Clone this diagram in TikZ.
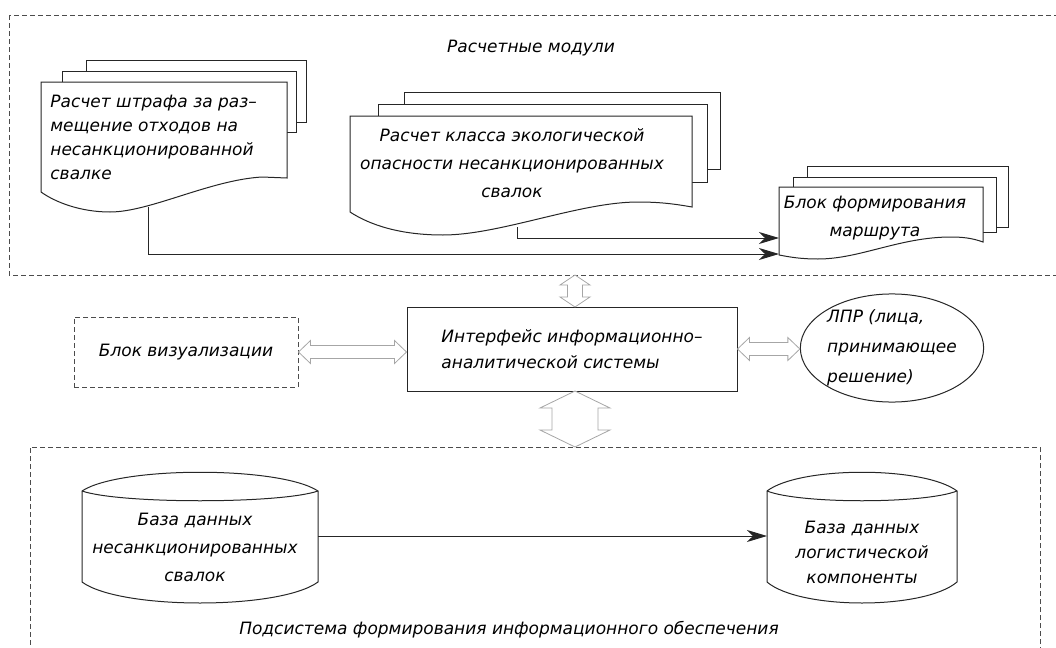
\documentclass[tikz,border=0pt]{standalone}
\usepackage{fontspec}
\setmainfont{DejaVu Sans}
\usetikzlibrary{arrows.meta,shapes.geometric,calc}

\tikzset{
  line/.style={draw=black!85, line width=0.5pt},
  page/.style={line, fill=white},
  dashbox/.style={draw=black!70, line width=0.5pt, dash pattern=on 2.5pt off 1.5pt},
  flow/.style={black!85, line width=0.5pt, -{Stealth[length=10pt,width=6pt,inset=3pt]}},
  txt/.style={font=\fontsize{8.5}{12}\selectfont\itshape, inner sep=0pt},
  hollow/.style={draw=black!35, fill=white, line width=0.4pt},
}
% hollow double arrow, horizontal: from, to, shaft half, head half, head length
\newcommand{\hollowh}[5]{%
  \draw[hollow] let \p1=(#1), \p2=(#2) in
    (\x1,\y1) -- (\x1+#5,\y1+#4) -- (\x1+#5,\y1+#3) -- (\x2-#5,\y1+#3)
    -- (\x2-#5,\y1+#4) -- (\x2,\y1) -- (\x2-#5,\y1-#4) -- (\x2-#5,\y1-#3)
    -- (\x1+#5,\y1-#3) -- (\x1+#5,\y1-#4) -- cycle;}
% hollow double arrow, vertical: upper, lower, shaft half, head half, head length
\newcommand{\hollowv}[5]{%
  \draw[hollow] let \p1=(#1), \p2=(#2) in
    (\x1,\y1) -- (\x1+#4,\y1-#5) -- (\x1+#3,\y1-#5) -- (\x1+#3,\y2+#5)
    -- (\x1+#4,\y2+#5) -- (\x1,\y2) -- (\x1-#4,\y2+#5) -- (\x1-#3,\y2+#5)
    -- (\x1-#3,\y1-#5) -- (\x1-#4,\y1-#5) -- cycle;}

\begin{document}
\begin{tikzpicture}[x=0.5pt,y=-0.5pt]
   \useasboundingbox (0,0) rectangle (1056,648);
   % outer areas
   \draw[dashbox] (9,15) rectangle (1070,275);
   \draw[dashbox] (1040,660) -- (1040,447) -- (30,447) -- (30,660);
   \node[txt] (modtitle) at (531,48) {Расчетные модули};
   \node[txt] (podtitle) at (509,630) {Подсистема формирования информационного обеспечения};

   % document stacks
   \filldraw[page] (86,60) rectangle (306,122);
   \filldraw[page] (62,71) rectangle (296,132);
   \filldraw[page] (41,82) -- (287,82) -- (287,178) -- (262,177)
      .. controls (210,180) and (150,212) .. (110,212)
      .. controls (80,212) and (55,202) .. (41,192) -- cycle;
   \node[txt, anchor=west, align=left] (shtraf) at (50,137)
      {Расчет штрафа за раз–\\мещение отходов на\\несанкционированной\\свалке};

   \filldraw[page] (404,92) rectangle (720,169);
   \filldraw[page] (378,104) rectangle (707,182);
   \filldraw[page] (350,116) -- (692,116) -- (692,207)
      .. controls (675,204) and (660,202) .. (638,202)
      .. controls (580,202) and (500,235) .. (443,235)
      .. controls (400,235) and (370,225) .. (350,212) -- cycle;
   \node[txt, align=center, font=\fontsize{8.5}{14}\selectfont\itshape] (klass) at (512,163)
      {Расчет класса экологической\\опасности несанкционированных\\свалок};

   \filldraw[page] (807,166) rectangle (1008,227);
   \filldraw[page] (793,177) rectangle (996,232);
   \filldraw[page] (779,187) -- (983,187) -- (983,242)
      .. controls (972,238) and (962,237) .. (951,237)
      .. controls (900,237) and (860,259) .. (818,259)
      .. controls (800,259) and (790,257) .. (779,255) -- cycle;
   \node[txt, align=center, font=\fontsize{8.5}{14}\selectfont\itshape] (marshrut) at (875,218)
      {Блок формирования\\маршрута};

   \coordinate (shtrafout) at (148,207);
   \coordinate (klassout) at (517,227);
   \coordinate (marshin1) at (779,238);
   \coordinate (marshin2) at (779,254);
   \draw[flow] (shtrafout) |- (marshin2);
   \draw[flow] (klassout) |- (marshin1);

   % middle row
   \node[txt, dashbox, minimum width=112pt, minimum height=35pt] (vizual) at (186,352)
      {Блок визуализации};
   \node[txt, line, minimum width=165pt, minimum height=42pt, align=left,
         font=\fontsize{8.5}{13}\selectfont\itshape] (interf) at (572,349)
      {Интерфейс информационно–\\аналитической системы};
   \node[txt, line, ellipse, minimum width=86pt, minimum height=52.5pt, align=left,
         font=\fontsize{8.5}{15}\selectfont\itshape] (lpr) at (892,348)
      {ЛПР (лица,\\принимающее\\решение)};
   \coordinate (modbot) at (575,275);
   \coordinate (podtop) at (575,447);
   \coordinate (interftop) at (575,307);
   \coordinate (interfbot) at (575,391);

   \hollowh{vizual.east}{interf.west}{3.25pt}{5.75pt}{6pt}
   \hollowh{interf.east}{lpr.west}{3.25pt}{5.75pt}{6pt}
   \hollowv{modbot}{interftop}{3.75pt}{7.5pt}{5pt}
   \hollowv{interfbot}{podtop}{11.5pt}{17.5pt}{8.5pt}

   % data bases
   \draw[line] (82,491) .. controls (120,466) and (280,466) .. (318,491)
      -- (318,582) .. controls (280,610) and (120,610) .. (82,582) -- cycle;
   \draw[line] (82,491) .. controls (120,504) and (280,504) .. (318,491);
   \node[txt, align=center, font=\fontsize{8.5}{14}\selectfont\itshape] (bdsvalok) at (195,547)
      {База данных\\несанкционированных\\свалок};

   \draw[line] (767,491) .. controls (800,466) and (924,466) .. (957,491)
      -- (957,582) .. controls (924,610) and (800,610) .. (767,582) -- cycle;
   \draw[line] (767,491) .. controls (800,504) and (924,504) .. (957,491);
   \node[txt, align=center, font=\fontsize{8.5}{12.5}\selectfont\itshape] (bdlog) at (862,552)
      {База данных\\логистической\\компоненты};

   \coordinate (bdsvalokout) at (318,536);
   \coordinate (bdlogin) at (767,536);
   \draw[flow] (bdsvalokout) -- (bdlogin);
\end{tikzpicture}
\end{document}
